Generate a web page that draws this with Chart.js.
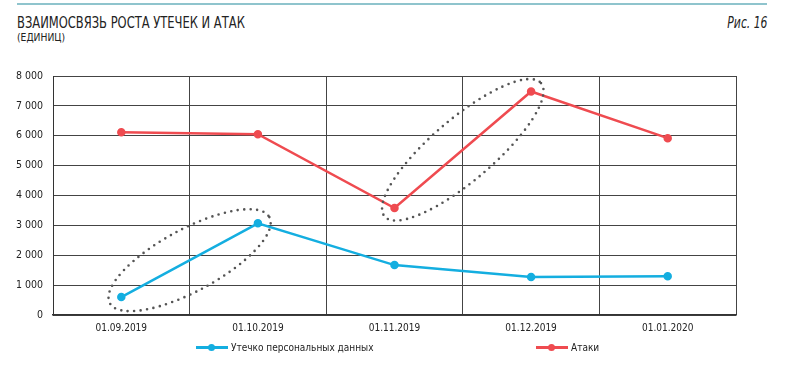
<!DOCTYPE html>
<html>
<head>
<meta charset="utf-8">
<script src="https://cdn.jsdelivr.net/npm/chart.js@4"></script>
<style>
  body { margin: 0; background: #fff; font-family: "Liberation Sans Narrow", "DejaVu Sans Condensed", sans-serif; }
  #wrap { position: relative; width: 800px; height: 366px; overflow: hidden; }
  #topline { position: absolute; left: 17px; top: 3px; width: 750px; height: 2px; background: #8fc4cd; }
  #title { position: absolute; left: 17px; top: 13px; font-size: 16px; color: #222; transform: scaleX(0.8); transform-origin: left top; white-space: nowrap; }
  #sub { position: absolute; left: 17px; top: 31px; font-size: 11px; color: #222; transform: scaleX(0.93); transform-origin: left top; }
  #fig { position: absolute; right: 33px; top: 13px; font-size: 16px; font-style: italic; color: #222; transform: scaleX(0.75); transform-origin: right top; }
  #legend { position: absolute; top: 342px; left: 0; width: 800px; font-size: 10px; color: #222; }
  .item { position: absolute; display: flex; align-items: center; }
  .sw { position: relative; width: 32px; height: 3px; margin-right: 3px; }
  .sw i { position: absolute; left: 12px; top: -2px; width: 7px; height: 7px; border-radius: 50%; }
  canvas { position: absolute; left: 0; top: 0; }
</style>
</head>
<body>
<div id="wrap">
  <div id="topline"></div>
  <div id="title">ВЗАИМОСВЯЗЬ РОСТА УТЕЧЕК И АТАК</div>
  <div id="sub">(ЕДИНИЦ)</div>
  <div id="fig">Рис. 16</div>
  <canvas id="canvas" width="800" height="366"></canvas>
  <div id="legend"></div>
</div>
<script>
// DATA
const labels = ['01.09.2019', '01.10.2019', '01.11.2019', '01.12.2019', '01.01.2020'];
const leaks = [600, 3070, 1670, 1270, 1300];
const attacks = [6120, 6050, 3580, 7480, 5920];
const seriesNames = ['Утечко персональных данных', 'Атаки'];
const seriesColors = ['#14aee0', '#ef4b50'];
// dotted ellipses: [dataset, from index, to index]
const highlights = [[0, 0, 1], [1, 2, 3]];

// dotted ellipse around a segment between two points
const ellipsePlugin = {
    id: 'ellipses',
    afterDatasetsDraw(chart) {
        const ctx = chart.ctx;
        const xs = chart.scales.x, ys = chart.scales.y;
        highlights.forEach(([ds, a, b]) => {
            const vals = chart.data.datasets[ds].data;
            const x1 = xs.getPixelForValue(a), y1 = ys.getPixelForValue(vals[a]);
            const x2 = xs.getPixelForValue(b), y2 = ys.getPixelForValue(vals[b]);
            const cx = (x1 + x2) / 2, cy = (y1 + y2) / 2;
            const len = Math.hypot(x2 - x1, y2 - y1);
            const ang = Math.atan2(y2 - y1, x2 - x1);
            ctx.save();
            ctx.strokeStyle = '#555';
            ctx.lineWidth = 2.6;
            ctx.lineCap = 'round';
            ctx.setLineDash([0, 6.5]);
            ctx.beginPath();
            ctx.ellipse(cx, cy, len / 2 + 13, 31, ang, 0, Math.PI * 2);
            ctx.stroke();
            ctx.restore();
        });
    }
};

Chart.defaults.font.family = '"Liberation Sans Narrow", "DejaVu Sans Condensed", sans-serif';
Chart.defaults.color = '#222';

const ctx = document.getElementById('canvas').getContext('2d');
const myChart = new Chart(ctx, {
    type: 'line',
    data: {
        labels: labels,
        datasets: [leaks, attacks].map((d, i) => ({
            label: seriesNames[i],
            data: d,
            borderColor: seriesColors[i],
            backgroundColor: seriesColors[i],
            borderWidth: 2.5,
            pointRadius: 3,
            pointHoverRadius: 3,
            tension: 0
        }))
    },
    options: {
        responsive: false,
        animation: false,
        layout: { padding: { left: 0, right: 64, top: 76, bottom: 31 } },
        plugins: { legend: { display: false }, tooltip: { enabled: false } },
        scales: {
            x: {
                offset: true,
                grid: { offset: true, color: '#444', lineWidth: 1, drawTicks: false },
                border: { color: '#333', width: 1.5 },
                ticks: { padding: 7, font: { size: 10 }, maxRotation: 0 },
                afterFit: s => { s.height = 20; }
            },
            y: {
                min: 0, max: 8000,
                grid: { color: '#444', lineWidth: 1, drawTicks: false },
                border: { color: '#333', width: 1 },
                ticks: {
                    stepSize: 1000, padding: 10, font: { size: 10.5 },
                    callback: v => v.toString().replace(/\B(?=(\d{3})+(?!\d))/g, ' ')
                },
                afterFit: s => { s.width = 53; }
            }
        }
    },
    plugins: [ellipsePlugin]
});

// LEGEND
const legend = document.getElementById('legend');
const legendX = [196, 536];
seriesNames.forEach((name, i) => {
    const el = document.createElement('div');
    el.className = 'item';
    el.style.left = legendX[i] + 'px';
    el.innerHTML = `<span class="sw" style="background:${seriesColors[i]}"><i style="background:${seriesColors[i]}"></i></span>${name}`;
    legend.appendChild(el);
});
</script>
</body>
</html>
